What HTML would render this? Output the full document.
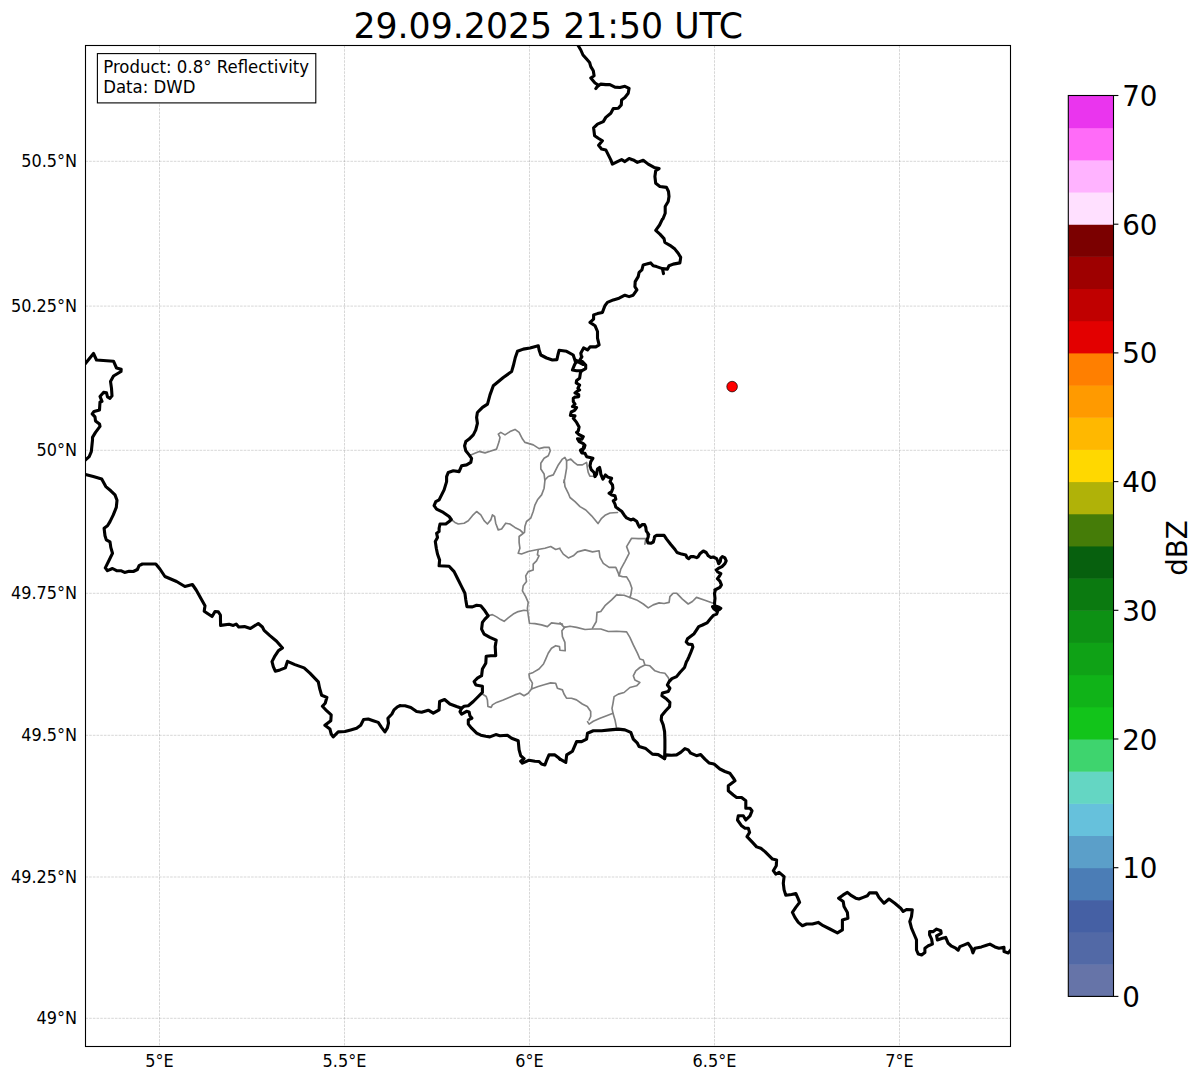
<!DOCTYPE html><html><head><meta charset="utf-8"><title>Radar</title><style>html,body{margin:0;padding:0;background:#fff}svg{display:block}text{font-family:"DejaVu Sans","Liberation Sans",sans-serif;fill:#000}</style></head><body>
<svg width="1202" height="1081" viewBox="0 0 1202 1081">
<rect width="1202" height="1081" fill="#fff"/>
<defs><clipPath id="ax"><rect x="85.5" y="45.5" width="925.0" height="1001.0"/></clipPath></defs>
<g stroke="#808080" stroke-opacity="0.45" stroke-width="0.7" stroke-dasharray="2.57 1.11" fill="none">
<line x1="85.5" x2="1010.5" y1="161.3" y2="161.3"/>
<line x1="85.5" x2="1010.5" y1="306.1" y2="306.1"/>
<line x1="85.5" x2="1010.5" y1="450.3" y2="450.3"/>
<line x1="85.5" x2="1010.5" y1="593.3" y2="593.3"/>
<line x1="85.5" x2="1010.5" y1="735.3" y2="735.3"/>
<line x1="85.5" x2="1010.5" y1="877.0" y2="877.0"/>
<line x1="85.5" x2="1010.5" y1="1018.3" y2="1018.3"/>
<line y1="45.5" y2="1046.5" x1="159.5" x2="159.5"/>
<line y1="45.5" y2="1046.5" x1="344.5" x2="344.5"/>
<line y1="45.5" y2="1046.5" x1="529.5" x2="529.5"/>
<line y1="45.5" y2="1046.5" x1="714.5" x2="714.5"/>
<line y1="45.5" y2="1046.5" x1="899.5" x2="899.5"/>
</g>
<g clip-path="url(#ax)" fill="none" stroke-linejoin="round" stroke-linecap="round">
<path d="M480.0 451.6 L485.0 452.9 L491.7 450.7 L496.6 449.1 L499.1 441.6 L500.0 437.4 L498.3 434.1 L500.8 432.4 L505.0 434.9 L510.0 431.6 L515.0 429.4 L519.1 432.4 L522.5 439.1 L525.0 442.4 L533.3 444.9 L539.1 448.6 L544.1 447.4 L549.1 447.4 L550.3 450.7 L548.3 455.7 L544.1 458.2 L540.8 463.2 L540.8 469.0 L544.1 474.0 L544.9 480.7 L544.1 488.2 L541.6 494.9 L537.5 499.8 L535.0 504.8 L533.6 510.0 L533.2 511.5 L530.7 518.2 L526.5 521.5 L524.9 526.5 L524.5 532.4 L522.4 534.0 L519.1 536.5 L519.1 542.4 L519.9 548.2 L518.2 553.2 L521.5 554.0 L528.2 551.5 L536.5 549.8 L544.9 548.2 L550.7 546.5 L555.7 549.5 L559.9 548.2" stroke="#808080" stroke-width="1.65"/>
<path d="M544.9 479.9 L548.3 476.5 L553.3 474.9 L558.3 464.9 L562.4 459.1 L564.9 457.4 L566.6 460.7 L566.6 468.2 L564.9 478.2 L563.8 482.4" stroke="#808080" stroke-width="1.65"/>
<path d="M566.6 460.7 L570.8 459.1 L574.1 462.4 L577.4 464.9 L582.4 464.9 L586.6 462.4 L587.4 468.2 L588.2 472.4 L589.9 476.2 L594.1 476.2" stroke="#808080" stroke-width="1.65"/>
<path d="M564.2 480.0 L565.0 486.7 L568.3 493.3 L570.0 497.5 L575.0 501.6 L580.0 506.6 L585.8 510.0 L591.6 515.8 L598.0 523.6 L601.6 518.3 L605.0 515.3 L610.0 513.0 L617.5 512.5" stroke="#808080" stroke-width="1.65"/>
<path d="M644.9 544.1 L645.8 538.6 L638.3 538.6 L631.6 538.3 L626.6 546.6 L629.1 553.3 L624.9 561.6 L620.8 569.1 L619.1 575.7 L622.4 576.6 L626.6 576.9 L629.9 582.4 L631.9 588.2 L630.8 594.9 L629.9 597.4" stroke="#808080" stroke-width="1.65"/>
<path d="M560.0 549.1 L563.3 554.1 L568.3 557.9 L573.3 555.8 L577.5 551.9 L585.0 549.9 L592.5 551.9 L599.1 550.8 L600.0 557.4 L603.3 563.3 L609.1 567.4 L615.8 567.4 L618.3 573.2 L619.1 575.7" stroke="#808080" stroke-width="1.65"/>
<path d="M629.9 597.4 L624.1 595.2 L616.6 594.9 L611.6 599.9 L605.0 605.7 L600.8 611.5 L597.0 612.4 L596.3 621.5 L592.5 628.2" stroke="#808080" stroke-width="1.65"/>
<path d="M560.0 622.9 L564.2 627.4 L570.0 626.2 L576.6 627.4 L585.0 629.5 L592.5 629.0 L600.8 629.0 L608.3 631.5 L616.6 631.2 L626.6 631.9 L629.9 637.4 L633.3 644.9 L637.4 653.2 L639.9 659.0 L643.3 660.0 L643.3 660.0 L644.9 665.0 L649.9 665.8 L654.9 670.8 L659.9 672.5 L664.9 673.3 L668.2 677.5 L669.1 680.0" stroke="#808080" stroke-width="1.65"/>
<path d="M629.9 597.4 L636.6 599.9 L643.3 604.0 L648.2 607.9 L653.2 604.9 L659.1 602.9 L664.1 603.5 L669.1 602.4 L669.9 596.6 L673.2 593.2 L676.6 593.2 L682.4 599.1 L688.2 604.0 L692.4 601.5 L696.5 597.4 L704.9 600.2 L713.2 603.2" stroke="#808080" stroke-width="1.65"/>
<path d="M644.9 665.0 L639.9 667.5 L635.8 670.8 L633.3 675.8 L634.9 680.0 L639.9 682.5 L636.6 685.8 L629.9 687.5 L624.1 692.5 L618.3 694.1 L614.1 696.6 L613.0 703.3 L612.0 708.3 L613.0 713.3 L615.0 719.9 L616.6 728.2" stroke="#808080" stroke-width="1.65"/>
<path d="M613.0 713.3 L606.6 715.8 L600.0 718.3 L593.3 721.3 L589.1 724.1 L587.5 721.6" stroke="#808080" stroke-width="1.65"/>
<path d="M470.8 454.9 L474.9 453.3 L479.9 451.3" stroke="#808080" stroke-width="1.65"/>
<path d="M451.3 519.5 L454.9 522.4 L458.3 524.0 L464.1 523.2 L468.3 520.7 L472.4 515.7 L476.6 511.5 L480.8 514.9 L484.1 520.7 L487.4 524.0 L490.8 519.9 L492.4 514.9 L494.6 516.5 L495.7 523.2 L498.2 529.9 L501.6 529.0 L505.7 523.2 L509.9 524.0 L514.9 527.4 L519.9 529.9 L523.2 533.2" stroke="#808080" stroke-width="1.65"/>
<path d="M538.2 549.8 L537.4 554.8 L539.0 555.8 L536.5 560.8 L533.2 564.1 L533.2 570.0 L528.2 571.6 L525.7 575.8 L526.5 581.6 L523.2 585.8 L522.4 590.8 L525.7 596.6 L528.2 602.4 L527.4 608.3 L528.2 614.9 L529.5 623.3 L534.9 623.6 L541.5 624.9 L547.4 626.6 L551.5 622.9 L557.4 623.6 L562.4 624.1" stroke="#808080" stroke-width="1.65"/>
<path d="M488.2 615.8 L492.4 614.6 L496.6 616.9 L500.7 619.6 L504.1 621.3 L508.2 617.9 L513.2 614.1 L518.2 611.6 L524.0 610.3 L527.4 610.8" stroke="#808080" stroke-width="1.65"/>
<path d="M564.9 626.9 L561.9 630.8 L562.4 636.6 L564.9 642.4 L565.2 650.7 L559.9 650.2 L559.5 646.6 L555.7 645.7 L551.5 648.2 L548.2 653.2 L545.7 659.1 L543.5 664.0 L539.0 669.0 L533.2 672.4 L529.0 674.0 L529.5 678.2 L532.4 683.2 L531.5 689.0 L538.2 686.5 L544.9 684.5 L550.7 682.9 L555.7 683.2 L557.4 688.2 L562.4 689.9 L564.0 694.0 L566.5 698.2 L571.5 698.2 L576.5 699.9 L582.3 704.0 L587.3 706.5 L590.7 711.5 L590.7 716.5 L589.0 720.0" stroke="#808080" stroke-width="1.65"/>
<path d="M531.5 689.0 L528.2 693.2 L524.0 695.7 L519.9 693.2 L514.9 694.9 L509.1 697.4 L503.2 699.9 L496.6 702.4 L492.4 704.9 L491.2 707.4 L487.9 706.5 L487.4 699.9 L486.2 696.5 L482.4 694.0" stroke="#808080" stroke-width="1.65"/>
<path d="M578.3 45.8 L580.8 50.0 L583.0 55.0 L586.6 59.1 L589.6 62.5 L590.8 66.6 L593.3 70.8 L594.1 75.8 L590.8 78.0 L595.0 83.0 L598.3 85.0 L595.8 88.6 L597.5 86.6 L600.8 84.1 L605.8 84.6 L609.9 84.6 L614.9 87.1 L619.9 87.5 L624.9 86.3 L629.1 88.3 L628.2 93.3 L624.9 97.5 L621.6 99.9 L621.3 104.9 L618.3 108.3 L613.3 108.6 L610.8 113.3 L605.8 117.4 L603.3 121.6 L597.5 124.1 L593.6 127.9 L594.6 135.7 L598.3 138.2 L602.4 140.7 L598.6 145.2 L601.6 149.1 L605.8 149.9 L608.3 154.9 L610.8 159.9 L612.4 164.1 L617.4 161.6 L621.6 159.6 L624.9 161.6 L629.1 158.6 L633.2 159.9 L637.4 162.4 L643.2 160.2 L648.2 164.1 L654.1 167.4 L659.1 168.6 L655.7 170.7 L654.9 176.5 L655.7 183.2 L659.9 186.5 L666.5 187.4 L668.5 191.5 L669.0 196.5 L668.2 201.5 L665.2 206.5 L665.2 213.2 L662.9 219.0 L662.4 219.2 L659.6 225.0 L655.7 230.3 L659.9 234.1 L664.0 238.6 L664.9 242.5 L669.9 245.3 L674.9 249.1 L678.2 253.3 L680.7 257.4 L679.9 262.9 L673.2 264.1 L669.0 265.8 L667.4 269.1 L662.4 268.6 L663.5 273.6 L662.4 268.6 L656.6 266.6 L653.2 265.8 L650.7 262.9 L646.6 264.1 L643.2 264.9 L641.9 269.9 L639.1 272.4 L638.2 276.6 L635.2 281.6 L634.9 286.6 L636.9 289.9 L633.2 295.2 L629.1 296.6 L624.9 295.2 L619.1 298.2 L613.3 299.9 L607.4 302.4 L604.9 305.7 L602.4 312.4 L597.5 313.6 L593.6 314.9 L593.6 319.1 L590.0 322.4 L595.0 325.7 L597.5 331.5 L597.5 338.2 L599.1 344.9 L595.8 346.9 L590.0 346.9 L587.5 349.9 L583.6 347.9 L580.8 353.2 L581.6 357.4 L581.9 356.6 L579.6 360.8 L582.4 361.6 L585.7 365.0 L585.7 368.6 L581.6 370.8 L580.4 372.9 L579.6 378.3 L576.6 380.4 L576.2 382.9 L579.6 385.0 L577.9 388.3 L579.6 390.0 L576.6 391.6 L575.0 392.9 L578.7 394.6 L578.7 396.6 L575.0 397.1 L573.3 398.3 L573.3 401.6 L575.0 404.1 L572.5 406.6 L576.6 407.5 L574.6 410.4 L571.2 412.0 L570.4 415.4 L575.0 415.8 L573.3 418.3 L576.6 422.4 L579.1 427.0 L578.3 430.8 L576.6 432.4 L578.7 434.5 L583.3 436.6 L582.0 439.1 L577.5 438.7 L579.1 441.6 L583.3 443.7 L585.0 445.3 L584.1 448.3 L580.8 449.9 L582.0 452.4 L584.1 445.0 L583.3 449.2 L580.4 450.4 L581.7 452.9 L585.0 453.3 L586.6 456.7 L590.0 457.5 L592.9 458.3 L590.8 461.6 L590.0 465.8 L591.2 469.6 L594.1 472.5 L595.0 476.6 L596.6 474.1 L597.5 469.1 L599.6 467.5 L600.4 470.8 L600.8 474.1 L602.9 479.1 L605.4 475.0 L607.9 477.1 L611.6 478.3 L610.0 481.6 L612.5 485.0 L612.9 488.3 L611.6 491.6 L609.1 493.3 L611.6 494.9 L615.0 495.8 L615.8 499.1 L613.3 500.8 L615.0 504.1 L615.8 507.0 L619.1 509.5 L621.6 511.2 L624.1 514.9 L626.6 517.9 L630.8 519.9 L633.3 519.1 L636.6 521.2 L638.3 524.9 L639.5 527.0 L642.4 524.5 L644.5 524.5 L645.8 527.4 L646.2 530.8 L648.7 534.5 L647.9 533.3 L648.3 536.6 L647.1 540.0 L647.9 542.9 L650.8 543.3 L653.3 542.0 L654.1 539.1 L654.6 536.6 L656.6 535.4 L664.1 535.4 L666.6 539.1 L670.8 544.5 L675.0 549.5 L677.0 552.5 L681.6 554.1 L685.8 555.0 L687.0 557.5 L688.7 558.7 L690.8 556.6 L693.3 556.5 L696.6 557.6 L698.3 556.6 L699.9 553.7 L703.3 551.0 L706.2 552.5 L708.3 555.8 L710.8 557.5 L713.3 557.0 L716.6 558.7 L717.8 561.2 L718.7 563.7 L720.3 561.6 L720.8 558.3 L722.4 556.5 L724.9 557.9 L726.2 560.8 L724.9 563.7 L722.0 566.6 L718.3 568.4 L716.2 569.9 L717.8 572.0 L720.8 573.7 L719.1 576.6 L717.4 578.7 L719.9 581.2 L721.4 584.9 L719.9 587.4 L714.9 590.0 L715.4 590.0 L714.5 593.3 L715.0 598.3 L714.5 603.3 L715.0 605.8 L718.3 607.0 L720.8 608.3 L719.1 609.8 L715.8 608.3 L712.5 606.6 L714.1 609.1 L717.5 611.6 L716.6 614.1 L713.3 615.4 L710.8 618.3 L707.0 622.9 L702.5 625.0 L698.7 626.6 L696.6 629.9 L694.1 633.7 L690.8 636.2 L687.5 638.7 L686.2 642.0 L688.3 644.1 L692.1 644.5 L692.9 647.0 L690.8 652.4 L688.7 657.4 L687.5 660.0 L686.5 661.6 L684.5 667.5 L679.9 672.5 L676.6 676.6 L671.9 678.6 L669.1 681.6 L667.4 685.0 L669.9 688.3 L668.2 691.6 L662.4 693.0 L661.9 695.8 L666.6 699.1 L669.9 702.4 L669.6 706.6 L665.7 710.8 L661.6 715.8 L661.2 719.9 L663.2 724.9 L664.6 731.6 L664.9 739.9 L664.9 748.2 L664.6 758.6" stroke="#000" stroke-width="3.1"/>
<path d="M581.6 370.8 L576.6 370.8 L572.4 370.0 L574.1 365.8 L575.7 362.5 L579.6 360.8" stroke="#000" stroke-width="3.1"/>
<path d="M575.7 362.5 L573.2 355.0 L566.6 351.3 L559.1 350.3 L557.9 355.0 L556.9 359.6 L552.4 360.0 L546.6 358.0 L540.8 355.0 L539.1 350.0 L538.3 345.8 L530.0 348.0 L523.3 349.1 L517.5 351.3 L515.3 357.5 L513.3 365.8 L511.6 371.6 L503.3 377.5 L493.3 385.8 L490.0 394.9 L487.5 404.1 L482.5 407.4 L480.0 409.9 L477.4 412.5 L476.6 417.5 L477.4 423.3 L475.8 429.9 L473.3 434.9 L469.1 439.1 L465.8 441.6 L464.6 445.8 L465.8 450.8 L469.1 454.9 L471.6 458.3 L470.8 462.4 L466.6 464.9 L461.6 465.8 L459.1 471.6 L453.3 470.8 L448.3 472.4 L446.6 476.6 L446.6 481.6 L444.1 489.9 L441.6 494.9 L439.1 499.9 L435.8 501.6 L434.1 505.7 L436.6 509.1 L443.3 512.4 L449.1 516.5 L451.3 519.5 L449.1 521.5 L445.8 524.0 L440.0 524.0 L439.1 528.2 L439.1 531.5 L436.6 533.2 L437.5 537.4 L435.3 541.5 L436.3 548.2 L437.5 554.0 L439.6 560.0 L439.1 565.8 L449.1 566.3 L454.1 571.6 L457.4 578.3 L461.6 586.6 L464.9 593.3 L465.8 599.9 L466.9 606.6 L472.4 606.9 L476.6 605.3 L480.8 605.8 L484.9 610.8 L488.2 615.8 L484.9 619.1 L482.4 622.4 L481.6 629.1 L484.1 634.1 L489.9 637.4 L496.2 640.2 L495.2 646.6 L495.7 655.7 L490.8 655.7 L486.2 656.2 L485.8 663.2 L482.4 669.0 L481.6 675.7 L477.4 678.2 L474.1 681.5 L475.8 684.9 L482.4 686.2 L482.4 692.4 L478.3 696.5 L473.3 701.5 L468.3 705.7 L464.1 706.2 L461.6 708.2 L460.0 711.6 L461.6 714.1 L466.6 711.3 L469.1 711.9 L469.9 715.8 L471.9 718.3 L468.3 719.9 L468.3 724.1 L471.6 728.2 L476.6 733.2 L480.8 735.2 L485.8 736.2 L489.9 736.9 L495.8 734.6 L499.9 735.7 L507.4 735.2 L511.6 738.2 L518.2 740.7 L519.1 749.9 L520.7 755.7 L524.1 758.6 L520.7 761.2 L522.4 763.2 L529.1 760.2 L534.9 761.2 L539.1 761.5 L541.5 764.0 L544.9 764.9 L546.5 760.7 L549.0 754.9 L554.9 754.9 L558.2 757.4 L559.9 759.1" stroke="#000" stroke-width="3.1"/>
<path d="M560.0 759.1 L565.8 762.4 L566.7 754.9 L572.5 751.2 L576.6 741.6 L581.6 741.6 L586.6 739.1 L587.5 733.2 L593.3 730.8 L601.6 730.8 L610.0 729.9 L618.3 729.1 L624.9 729.9 L630.8 732.4 L633.3 739.1 L637.4 743.2 L639.1 746.6 L645.8 748.6 L652.4 754.1 L658.2 754.6 L664.6 758.6 L665.7 754.9 L671.6 755.2 L676.6 754.9 L680.7 752.4 L684.9 748.6 L688.2 749.9 L690.7 753.2 L696.5 755.7 L700.7 754.6 L704.9 759.1 L709.0 762.9 L714.0 764.0 L719.9 769.0 L724.9 771.5 L729.8 773.2 L734.0 779.0 L735.0 780.8 L728.3 785.8 L728.3 790.8 L733.3 795.0 L736.6 797.5 L741.6 797.5 L745.8 800.8 L745.8 808.3 L750.0 808.3 L752.0 810.8 L750.0 815.8 L745.8 820.0 L743.3 815.8 L738.3 815.8 L737.5 820.0 L741.6 825.8 L745.0 828.3 L748.3 828.3 L749.6 832.4 L747.0 836.6 L752.5 842.4 L756.6 846.9 L760.8 848.3 L765.0 851.6 L770.0 856.6 L772.5 859.1 L776.6 859.9 L776.3 865.7 L773.3 870.7 L775.8 874.1 L779.1 872.4 L784.1 876.6 L783.3 883.2 L784.1 889.9 L785.8 895.2 L791.6 894.5 L795.8 893.5 L797.9 898.2 L799.6 902.4 L795.8 907.4 L792.4 912.4 L794.9 917.4 L798.3 922.4 L802.4 925.7 L806.6 924.0 L812.4 924.0 L818.2 922.4 L823.2 925.7 L829.9 929.0 L837.4 932.9 L842.4 929.9 L842.4 919.9 L847.9 918.2 L847.4 912.4 L844.0 906.5 L843.2 901.5 L838.6 898.2 L843.2 894.9 L847.4 892.4 L851.5 895.7 L855.7 898.2 L859.0 899.0 L863.2 897.4 L867.4 895.7 L869.5 892.9 L876.5 892.9 L879.0 897.4 L884.0 903.2 L889.0 899.0 L894.8 903.2 L900.7 908.2 L903.2 911.5 L906.5 909.5 L912.3 909.9 L911.5 916.5 L909.8 921.5 L911.5 928.2 L914.0 934.0 L916.5 939.8 L916.5 950.0 L918.3 954.1 L921.6 954.9 L924.9 952.4 L924.9 948.2 L928.3 945.8 L932.4 944.1 L931.6 939.1 L929.6 934.9 L929.6 931.6 L933.3 931.6 L936.6 929.1 L940.8 930.8 L941.2 933.3 L936.6 935.8 L937.4 939.9 L942.4 938.3 L945.7 937.4 L948.2 943.3 L951.6 946.2 L955.7 948.2 L958.2 950.2 L959.9 946.6 L964.9 944.6 L968.2 943.3 L971.5 948.2 L972.9 952.9 L974.9 948.2 L981.5 946.9 L986.5 945.2 L989.9 944.1 L994.9 946.9 L999.0 948.2 L1004.0 947.4 L1004.0 951.6 L1008.2 952.9 L1011.5 949.1" stroke="#000" stroke-width="3.1"/>
<path d="M400.0 705.7 L405.0 705.7 L410.8 707.4 L416.6 711.5 L421.6 712.3 L428.3 710.2 L433.3 713.2 L439.1 709.8 L439.6 701.5 L444.6 699.5 L449.9 704.0 L456.6 706.5 L461.6 708.2" stroke="#000" stroke-width="3.1"/>
<path d="M85.5 474.6 L93.3 476.6 L101.7 479.1 L105.8 486.6 L110.8 490.8 L115.0 494.9 L117.0 500.3 L116.3 507.4 L113.3 514.9 L110.0 521.6 L107.5 525.8 L104.1 528.2 L105.0 535.7 L106.3 539.9 L110.0 541.9 L110.8 547.4 L112.5 553.2 L109.1 560.2 L105.3 567.9 L107.5 570.7 L112.5 568.5 L116.6 570.7 L120.8 570.7 L124.6 572.4 L129.1 571.2 L133.3 571.5 L137.4 569.5 L139.1 565.7 L142.4 564.0 L149.9 564.0 L155.8 564.0 L159.9 569.0 L164.9 576.5 L176.6 581.5 L184.9 586.5 L192.4 584.5 L196.2 590.0 L200.8 598.3 L205.0 605.8 L204.2 611.2 L207.9 613.7 L212.1 616.5 L215.0 611.5 L218.3 611.8 L220.4 615.0 L220.6 625.4 L229.1 624.3 L233.3 625.4 L236.2 624.1 L238.7 627.0 L244.5 626.6 L250.4 628.5 L258.3 623.5 L262.4 627.0 L264.1 630.4 L269.9 635.6 L276.6 641.2 L282.5 647.9 L278.3 650.8 L275.0 655.8 L272.0 661.6 L273.3 666.6 L275.3 671.2 L280.0 669.9 L285.3 667.9 L287.5 661.3 L294.9 664.6 L304.1 667.9 L309.9 673.2 L318.3 681.9 L319.6 688.2 L321.6 695.2 L326.9 697.4 L325.2 703.2 L322.4 706.2 L326.6 710.7 L331.2 714.9 L330.8 720.7 L324.9 725.2 L329.9 729.0 L331.2 734.0 L333.2 736.9 L338.2 731.9 L344.9 731.5 L350.7 729.9 L356.6 728.2 L360.7 725.2 L363.6 719.5 L368.2 719.0 L373.2 720.7 L378.2 722.4 L381.5 727.4 L384.9 731.9 L387.4 727.9 L388.5 723.2 L387.9 718.2 L391.9 714.0 L394.0 709.9 L397.4 706.9 L400.0 705.7" stroke="#000" stroke-width="3.1"/>
<path d="M85.0 364.0 L93.5 353.5 L96.5 360.0 L113.5 361.2 L116.5 368.0 L121.2 369.2 L121.0 371.5 L113.5 376.0 L110.5 381.4 L111.5 388.4 L112.0 395.9 L110.0 398.4 L107.5 396.9 L106.5 392.9 L103.5 392.4 L100.0 396.4 L102.0 401.4 L100.0 401.9 L99.5 409.9 L94.0 411.4 L92.2 413.9 L95.0 416.9 L95.5 420.9 L99.5 423.9 L100.0 426.4 L95.5 432.4 L92.5 437.4 L92.5 440.0 L91.3 451.7 L89.2 456.6 L85.0 460.3" stroke="#000" stroke-width="3.1"/>
<path d="M576.2 360.4 L580.0 362.9 L583.3 364.5" stroke="#000" stroke-width="3.1"/>
</g>
<circle cx="732.1" cy="386.6" r="5.3" fill="#ff0000" stroke="#000" stroke-width="0.7"/>
<rect x="85.5" y="45.5" width="925.0" height="1001.0" fill="none" stroke="#000" stroke-width="1.1"/>
<text transform="translate(77.1 167.4) scale(0.965 1.09)" font-size="16.67" text-anchor="end">50.5°N</text>
<text transform="translate(77.1 312.2) scale(0.965 1.09)" font-size="16.67" text-anchor="end">50.25°N</text>
<text transform="translate(77.1 456.4) scale(0.965 1.09)" font-size="16.67" text-anchor="end">50°N</text>
<text transform="translate(77.1 599.4) scale(0.965 1.09)" font-size="16.67" text-anchor="end">49.75°N</text>
<text transform="translate(77.1 741.4) scale(0.965 1.09)" font-size="16.67" text-anchor="end">49.5°N</text>
<text transform="translate(77.1 883.1) scale(0.965 1.09)" font-size="16.67" text-anchor="end">49.25°N</text>
<text transform="translate(77.1 1024.4) scale(0.965 1.09)" font-size="16.67" text-anchor="end">49°N</text>
<text transform="translate(159.5 1066.9) scale(0.965 1.09)" font-size="16.67" text-anchor="middle">5°E</text>
<text transform="translate(344.5 1066.9) scale(0.965 1.09)" font-size="16.67" text-anchor="middle">5.5°E</text>
<text transform="translate(529.5 1066.9) scale(0.965 1.09)" font-size="16.67" text-anchor="middle">6°E</text>
<text transform="translate(714.5 1066.9) scale(0.965 1.09)" font-size="16.67" text-anchor="middle">6.5°E</text>
<text transform="translate(899.5 1066.9) scale(0.965 1.09)" font-size="16.67" text-anchor="middle">7°E</text>
<text transform="translate(548.2 37.8) scale(1 1.025)" font-size="34.72" text-anchor="middle">29.09.2025 21:50 UTC</text>
<rect x="97.4" y="53.6" width="218.4" height="49.3" fill="#fff" stroke="#000" stroke-width="1.1"/>
<text transform="translate(103.2 73.2) scale(0.993 1.09)" font-size="16.67">Product: 0.8° Reflectivity</text>
<text transform="translate(103.2 93.1) scale(0.993 1.09)" font-size="16.67">Data: DWD</text>
<rect x="1068.3" y="964.23" width="45.2" height="32.67" fill="#6674a8"/>
<rect x="1068.3" y="932.05" width="45.2" height="32.67" fill="#5269a6"/>
<rect x="1068.3" y="899.88" width="45.2" height="32.67" fill="#4560a4"/>
<rect x="1068.3" y="867.70" width="45.2" height="32.67" fill="#4b7db6"/>
<rect x="1068.3" y="835.52" width="45.2" height="32.67" fill="#5b9fc9"/>
<rect x="1068.3" y="803.35" width="45.2" height="32.67" fill="#66c1dc"/>
<rect x="1068.3" y="771.17" width="45.2" height="32.67" fill="#64d6c3"/>
<rect x="1068.3" y="739.00" width="45.2" height="32.67" fill="#3ed46e"/>
<rect x="1068.3" y="706.83" width="45.2" height="32.67" fill="#12c41a"/>
<rect x="1068.3" y="674.65" width="45.2" height="32.67" fill="#10b318"/>
<rect x="1068.3" y="642.48" width="45.2" height="32.67" fill="#0fa216"/>
<rect x="1068.3" y="610.30" width="45.2" height="32.67" fill="#0d9114"/>
<rect x="1068.3" y="578.12" width="45.2" height="32.67" fill="#0b7a10"/>
<rect x="1068.3" y="545.95" width="45.2" height="32.67" fill="#07600e"/>
<rect x="1068.3" y="513.78" width="45.2" height="32.67" fill="#457c08"/>
<rect x="1068.3" y="481.60" width="45.2" height="32.67" fill="#b0b208"/>
<rect x="1068.3" y="449.43" width="45.2" height="32.67" fill="#ffd800"/>
<rect x="1068.3" y="417.25" width="45.2" height="32.67" fill="#ffb800"/>
<rect x="1068.3" y="385.08" width="45.2" height="32.67" fill="#ff9a00"/>
<rect x="1068.3" y="352.90" width="45.2" height="32.67" fill="#ff7f00"/>
<rect x="1068.3" y="320.73" width="45.2" height="32.67" fill="#e30000"/>
<rect x="1068.3" y="288.55" width="45.2" height="32.67" fill="#c00000"/>
<rect x="1068.3" y="256.38" width="45.2" height="32.67" fill="#9e0000"/>
<rect x="1068.3" y="224.20" width="45.2" height="32.67" fill="#7b0000"/>
<rect x="1068.3" y="192.03" width="45.2" height="32.67" fill="#ffe0ff"/>
<rect x="1068.3" y="159.85" width="45.2" height="32.67" fill="#ffb3ff"/>
<rect x="1068.3" y="127.68" width="45.2" height="32.67" fill="#ff6bf8"/>
<rect x="1068.3" y="95.50" width="45.2" height="32.67" fill="#ea35ee"/>
<rect x="1068.3" y="95.5" width="45.2" height="900.9" fill="none" stroke="#000" stroke-width="1.1"/>
<line x1="1113.5" x2="1118.4" y1="996.4" y2="996.4" stroke="#000" stroke-width="1.1"/>
<text x="1122.2" y="1006.9" font-size="27.78">0</text>
<line x1="1113.5" x2="1118.4" y1="867.7" y2="867.7" stroke="#000" stroke-width="1.1"/>
<text x="1122.2" y="878.2" font-size="27.78">10</text>
<line x1="1113.5" x2="1118.4" y1="739.0" y2="739.0" stroke="#000" stroke-width="1.1"/>
<text x="1122.2" y="749.5" font-size="27.78">20</text>
<line x1="1113.5" x2="1118.4" y1="610.3" y2="610.3" stroke="#000" stroke-width="1.1"/>
<text x="1122.2" y="620.8" font-size="27.78">30</text>
<line x1="1113.5" x2="1118.4" y1="481.6" y2="481.6" stroke="#000" stroke-width="1.1"/>
<text x="1122.2" y="492.1" font-size="27.78">40</text>
<line x1="1113.5" x2="1118.4" y1="352.9" y2="352.9" stroke="#000" stroke-width="1.1"/>
<text x="1122.2" y="363.4" font-size="27.78">50</text>
<line x1="1113.5" x2="1118.4" y1="224.2" y2="224.2" stroke="#000" stroke-width="1.1"/>
<text x="1122.2" y="234.7" font-size="27.78">60</text>
<line x1="1113.5" x2="1118.4" y1="95.5" y2="95.5" stroke="#000" stroke-width="1.1"/>
<text x="1122.2" y="106.0" font-size="27.78">70</text>
<text transform="translate(1187,548) rotate(-90)" font-size="27.78" text-anchor="middle">dBZ</text>
</svg></body></html>
